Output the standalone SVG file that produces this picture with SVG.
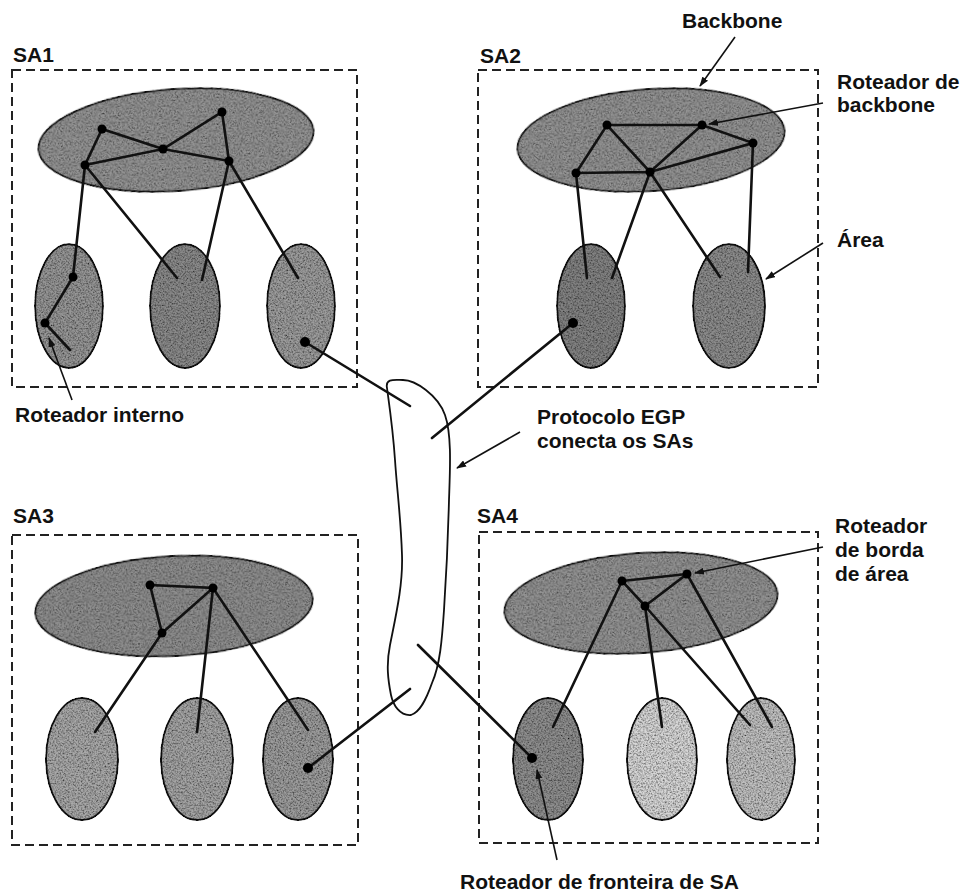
<svg xmlns="http://www.w3.org/2000/svg" width="960" height="894" viewBox="0 0 960 894">
<style>
  text { font-family: "Liberation Sans", Arial, Helvetica, sans-serif; font-weight: bold; font-size: 21px; fill: #111; }
  .box { fill: none; stroke: #222; stroke-width: 2; stroke-dasharray: 9 5; }
  .bb { stroke: #111; stroke-width: 2; filter: url(#grain); }
  .area { stroke: #111; stroke-width: 2; filter: url(#grain); }
  .link { stroke: #111; stroke-width: 2.6; stroke-linecap: round; fill: none; }
  .ptr { stroke: #111; stroke-width: 1.6; fill: none; marker-end: url(#arr); }
  .rt { fill: #000; }
  .cloud { fill: #fff; stroke: #111; stroke-width: 1.8; }
</style>
<defs>
  <filter id="grain" x="-5%" y="-5%" width="110%" height="110%">
    <feTurbulence type="fractalNoise" baseFrequency="0.6" numOctaves="3" seed="7" result="t"/>
    <feColorMatrix in="t" type="matrix" values="1.7 0 0 0 -0.1  1.7 0 0 0 -0.1  1.7 0 0 0 -0.1  0 0 0 0 1" result="g"/>
    <feBlend in="SourceGraphic" in2="g" mode="multiply" result="b"/>
    <feComposite in="b" in2="SourceAlpha" operator="in"/>
  </filter>
  <marker id="arr" viewBox="0 0 10 7" refX="9" refY="3.5" markerWidth="10" markerHeight="7" markerUnits="userSpaceOnUse" orient="auto">
    <path d="M0,0 L10,3.5 L0,7 z" fill="#111"/>
  </marker>
</defs>
<rect width="960" height="894" fill="#fff"/>

<!-- EGP cloud -->
<g id="egp">
  <path class="cloud" d="M 387,388 C 385,378 395,380 403,380 C 415,380 438,395 445,415 C 452,435 450,470 449,500 C 448,540 446,580 444,610 C 442,640 440,665 432,683 C 426,700 420,712 411,715 C 400,716 393,705 391,695 C 388,680 386,665 390,645 C 396,615 403,585 402,555 C 401,520 397,490 395,460 C 393,430 390,410 387,388 Z"/>
</g>

<!-- SA1 -->
<g id="sa1">
  <rect class="box" x="12" y="70" width="345" height="317"/>
  <text x="13" y="62">SA1</text>
  <ellipse id="sa1-backbone" class="bb" cx="176" cy="140" rx="138" ry="51" transform="rotate(-4 176 140)" fill="#959595"/>
  <ellipse id="sa1-area1" class="area" cx="69" cy="306" rx="34" ry="62" fill="#969696"/>
  <ellipse id="sa1-area2" class="area" cx="185" cy="306" rx="35" ry="62" fill="#8a8a8a"/>
  <ellipse id="sa1-area3" class="area" cx="301" cy="306" rx="34" ry="62" fill="#9c9c9c"/>
</g>

<!-- SA2 -->
<g id="sa2">
  <rect class="box" x="478" y="70" width="340" height="317"/>
  <text x="480" y="63">SA2</text>
  <ellipse id="sa2-backbone" class="bb" cx="651" cy="140" rx="134" ry="51" transform="rotate(-4 651 140)" fill="#959595"/>
  <ellipse id="sa2-area1" class="area" cx="591" cy="306" rx="34" ry="62" fill="#828282"/>
  <ellipse id="sa2-area2" class="area" cx="729" cy="306" rx="36" ry="62" fill="#8c8c8c"/>
</g>

<!-- SA3 -->
<g id="sa3">
  <rect class="box" x="12" y="535" width="346" height="310"/>
  <text x="13" y="523">SA3</text>
  <ellipse id="sa3-backbone" class="bb" cx="174" cy="606" rx="139" ry="50" transform="rotate(-3 174 606)" fill="#909090"/>
  <ellipse id="sa3-area1" class="area" cx="82" cy="759" rx="36" ry="61" fill="#a8a8a8"/>
  <ellipse id="sa3-area2" class="area" cx="197" cy="759" rx="36" ry="61" fill="#a4a4a4"/>
  <ellipse id="sa3-area3" class="area" cx="298" cy="759" rx="35" ry="61" fill="#9c9c9c"/>
</g>

<!-- SA4 -->
<g id="sa4">
  <rect class="box" x="479" y="532" width="339" height="311"/>
  <text x="477" y="523">SA4</text>
  <ellipse id="sa4-backbone" class="bb" cx="641" cy="603" rx="137" ry="50" transform="rotate(-4 641 603)" fill="#949494"/>
  <ellipse id="sa4-area1" class="area" cx="548" cy="759" rx="35" ry="61" fill="#8e8e8e"/>
  <ellipse id="sa4-area2" class="area" cx="662" cy="759" rx="35" ry="61" fill="#d6d6d6"/>
  <ellipse id="sa4-area3" class="area" cx="761" cy="759" rx="34" ry="61" fill="#c0c0c0"/>
</g>

<!-- connectors -->
<g id="connectors">
  <!-- SA1 backbone -->
  <path class="link" d="M102,129 L85,165 L163,149 L229,161 L222,112 L163,149 L102,129"/>
  <path class="link" d="M85,165 L73,277 L45,323 L70,350"/>
  <path class="link" d="M85,165 L177,278"/>
  <path class="link" d="M229,161 L202,280"/>
  <path class="link" d="M229,161 L298,278"/>
  <!-- SA2 backbone -->
  <path class="link" d="M607,125 L702,125 L753,143 L650,172 L576,173 L607,125 L650,172 L702,125"/>
  <path class="link" d="M576,173 L587,278"/>
  <path class="link" d="M650,172 L612,278"/>
  <path class="link" d="M650,172 L720,277"/>
  <path class="link" d="M753,143 L748,272"/>
  <!-- SA3 backbone -->
  <path class="link" d="M150,585 L213,588 L162,633 Z"/>
  <path class="link" d="M162,633 L95,732"/>
  <path class="link" d="M213,588 L197,732"/>
  <path class="link" d="M213,588 L308,730"/>
  <!-- SA4 backbone -->
  <path class="link" d="M622,581 L687,574 L645,606 Z"/>
  <path class="link" d="M622,581 L553,727"/>
  <path class="link" d="M645,606 L662,727"/>
  <path class="link" d="M645,606 L750,725"/>
  <path class="link" d="M687,574 L772,727"/>
  <!-- EGP links -->
  <path class="link" d="M305,342 L410,406"/>
  <path class="link" d="M573,323 L432,438"/>
  <path class="link" d="M308,768 L410,689"/>
  <path class="link" d="M418,645 L532,758"/>
  <!-- routers -->
  <g class="rt">
    <circle cx="102" cy="129" r="4.5"/><circle cx="222" cy="112" r="4.5"/><circle cx="163" cy="149" r="4.5"/>
    <circle cx="85" cy="165" r="4.5"/><circle cx="229" cy="161" r="4.5"/>
    <circle cx="73" cy="277" r="4.5"/><circle cx="45" cy="323" r="4.5"/><circle cx="305" cy="342" r="5"/>
    <circle cx="607" cy="125" r="4.5"/><circle cx="702" cy="125" r="4.5"/><circle cx="753" cy="143" r="4.5"/>
    <circle cx="576" cy="173" r="4.5"/><circle cx="650" cy="172" r="4.5"/><circle cx="573" cy="323" r="5"/>
    <circle cx="150" cy="585" r="4.5"/><circle cx="213" cy="588" r="4.5"/><circle cx="162" cy="633" r="4.5"/>
    <circle cx="308" cy="768" r="5"/>
    <circle cx="622" cy="581" r="4.5"/><circle cx="687" cy="574" r="4.5"/><circle cx="645" cy="606" r="4.5"/>
    <circle cx="532" cy="758" r="5"/>
  </g>
  <!-- label pointers -->
  <path class="ptr" d="M735,37 L700,86"/>
  <path class="ptr" d="M823,103 L709,124"/>
  <path class="ptr" d="M823,243 L766,279"/>
  <path class="ptr" d="M520,432 L457,468"/>
  <path class="ptr" d="M823,547 L695,573"/>
  <path class="ptr" d="M557,860 L537,770"/>
  <path class="ptr" d="M72,400 L49,338"/>
</g>

<!-- labels -->
<g id="labels">
  <text x="682" y="28">Backbone</text>
  <text x="837" y="89">Roteador de</text>
  <text x="837" y="112">backbone</text>
  <text x="837" y="247">Área</text>
  <text x="15" y="422">Roteador interno</text>
  <text x="537" y="424">Protocolo EGP</text>
  <text x="537" y="448">conecta os SAs</text>
  <text x="835" y="533">Roteador</text>
  <text x="835" y="557">de borda</text>
  <text x="835" y="581">de área</text>
  <text x="460" y="889">Roteador de fronteira de SA</text>
</g>
</svg>
